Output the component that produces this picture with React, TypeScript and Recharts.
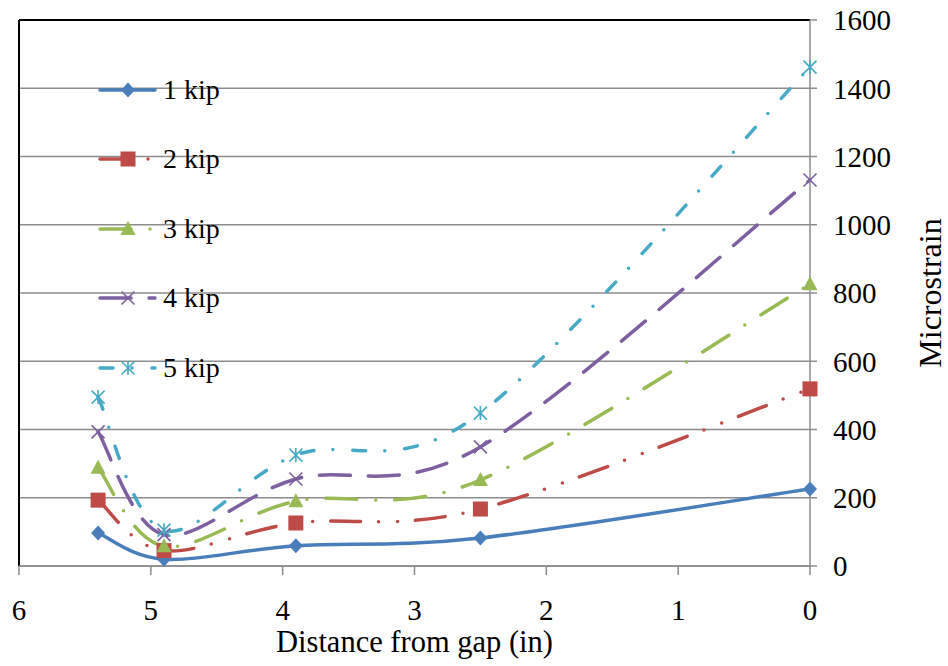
import React from 'react';
import { LineChart, Line, XAxis, YAxis, CartesianGrid, ReferenceLine, Legend } from 'recharts';

const distances = [5.4, 4.9, 3.9, 2.5, 0];
const kip1 = [97, 20, 59, 82, 226];
const kip2 = [193, 45, 126, 167, 519];
const kip3 = [288, 58, 190, 252, 826];
const kip4 = [393, 92, 255, 349, 1131];
const kip5 = [495, 105, 325, 448, 1462];
const seriesNames = ['1 kip', '2 kip', '3 kip', '4 kip', '5 kip'];
const xTicks = [0, 1, 2, 3, 4, 5, 6];
const yTicks = [0, 200, 400, 600, 800, 1000, 1200, 1400, 1600];

const FONT = '"Liberation Serif", "Times New Roman", serif';

const data = distances.map((x, i) => ({
  x,
  k1: kip1[i],
  k2: kip2[i],
  k3: kip3[i],
  k4: kip4[i],
  k5: kip5[i],
}));

type Shape = 'diamond' | 'square' | 'triangle' | 'x' | 'star';

const series: { key: string; name: string; color: string; dash?: string; shape: Shape }[] = [
  { key: 'k1', name: seriesNames[0], color: '#4A7EBB', shape: 'diamond' },
  { key: 'k2', name: seriesNames[1], color: '#BE4B48', dash: '30 18 0 19 0 18', shape: 'square' },
  { key: 'k3', name: seriesNames[2], color: '#98B954', dash: '31 19 0 19', shape: 'triangle' },
  { key: 'k4', name: seriesNames[3], color: '#7D60A0', dash: '31 18', shape: 'x' },
  { key: 'k5', name: seriesNames[4], color: '#46AAC5', dash: '13 19 0 20', shape: 'star' },
];

// Excel-like smoothed line (Catmull-Rom through every point)
const excelSmooth = (context: any) => {
  let pts: number[][] = [];
  return {
    areaStart() {},
    areaEnd() {},
    lineStart() {
      pts = [];
    },
    point(x: number, y: number) {
      pts.push([+x, +y]);
    },
    lineEnd() {
      const n = pts.length;
      if (!n) return;
      context.moveTo(pts[0][0], pts[0][1]);
      for (let i = 0; i < n - 1; i++) {
        const p0 = pts[i - 1] || pts[i];
        const p1 = pts[i];
        const p2 = pts[i + 1];
        const p3 = pts[i + 2] || p2;
        context.bezierCurveTo(
          p1[0] + (p2[0] - p0[0]) / 6,
          p1[1] + (p2[1] - p0[1]) / 6,
          p2[0] - (p3[0] - p1[0]) / 6,
          p2[1] - (p3[1] - p1[1]) / 6,
          p2[0],
          p2[1]
        );
      }
    },
  };
};

function Marker({ cx, cy, shape, color }: { cx: number; cy: number; shape: Shape; color: string }) {
  if (cx == null || cy == null) return null;
  switch (shape) {
    case 'diamond':
      return <path d={`M${cx},${cy - 7.5}L${cx + 7},${cy}L${cx},${cy + 7.5}L${cx - 7},${cy}Z`} fill={color} />;
    case 'square':
      return <rect x={cx - 7.5} y={cy - 7.5} width={15} height={15} fill={color} />;
    case 'triangle':
      return <path d={`M${cx},${cy - 8}L${cx + 7.5},${cy + 6}L${cx - 7.5},${cy + 6}Z`} fill={color} />;
    case 'x':
      return (
        <path
          d={`M${cx - 6.5},${cy - 6.5}L${cx + 6.5},${cy + 6.5}M${cx + 6.5},${cy - 6.5}L${cx - 6.5},${cy + 6.5}`}
          stroke={color}
          strokeWidth={1.6}
          fill="none"
        />
      );
    default:
      return (
        <path
          d={`M${cx - 6.5},${cy - 6.5}L${cx + 6.5},${cy + 6.5}M${cx + 6.5},${cy - 6.5}L${cx - 6.5},${cy + 6.5}M${cx},${cy - 7}L${cx},${cy + 7}`}
          stroke={color}
          strokeWidth={1.6}
          fill="none"
        />
      );
  }
}

function LegendBox() {
  return (
    <div style={{ fontFamily: FONT }}>
      {series.map((s) => (
        <div key={s.key} style={{ display: 'flex', alignItems: 'center', height: 69.5 }}>
          <svg width={62} height={24} style={{ display: 'block' }}>
            <line
              x1={2}
              y1={12}
              x2={57}
              y2={12}
              stroke={s.color}
              strokeWidth={3.5}
              strokeDasharray={s.dash}
              strokeLinecap="round"
            />
            <Marker cx={30} cy={12} shape={s.shape} color={s.color} />
          </svg>
          <span style={{ marginLeft: 3, fontSize: 28, lineHeight: 1, color: '#000' }}>{s.name}</span>
        </div>
      ))}
    </div>
  );
}

export default function App() {
  const tickStyle = { fill: '#000', fontSize: 29, fontFamily: FONT };
  return (
    <div style={{ position: 'absolute', left: 0, top: 0, width: 948, height: 666, background: '#fff' }}>
      <LineChart
        width={948}
        height={666}
        data={data}
        margin={{ top: 20, right: 0, bottom: 0, left: 19 }}
        style={{ fontFamily: FONT }}
      >
        <CartesianGrid vertical={false} stroke="#8C8C8C" strokeWidth={1.5} />
        <XAxis
          dataKey="x"
          type="number"
          domain={[0, 6]}
          ticks={xTicks}
          reversed
          height={100}
          stroke="#8C8C8C"
          strokeWidth={1.5}
          tickSize={9}
          tickMargin={24}
          tick={tickStyle}
          label={{ value: 'Distance from gap (in)', position: 'center', dy: 25, fill: '#000', fontSize: 30.5, fontFamily: FONT }}
        />
        <YAxis
          orientation="right"
          type="number"
          domain={[0, 1600]}
          ticks={yTicks}
          width={138}
          stroke="#8C8C8C"
          strokeWidth={1.5}
          tickSize={7}
          tickMargin={16}
          tick={tickStyle}
          label={{ value: 'Microstrain', angle: -90, position: 'center', dx: 51, fill: '#000', fontSize: 32, fontFamily: FONT }}
        />
        <ReferenceLine y={1600} stroke="#000" strokeWidth={2} />
        <ReferenceLine x={6} stroke="#000" strokeWidth={2} />
        <Legend
          layout="vertical"
          align="center"
          verticalAlign="middle"
          content={() => <LegendBox />}
          wrapperStyle={{ left: 98, top: 55, width: 180, height: 350 }}
        />
        {series.map((s) => (
          <Line
            key={s.key}
            dataKey={s.key}
            name={s.name}
            type={excelSmooth as any}
            stroke={s.color}
            strokeWidth={3.5}
            strokeDasharray={s.dash}
            strokeLinecap="round"
            dot={(p: any) => <Marker key={`${s.key}-${p.index}`} cx={p.cx} cy={p.cy} shape={s.shape} color={s.color} />}
            activeDot={false}
            isAnimationActive={false}
          />
        ))}
      </LineChart>
    </div>
  );
}
